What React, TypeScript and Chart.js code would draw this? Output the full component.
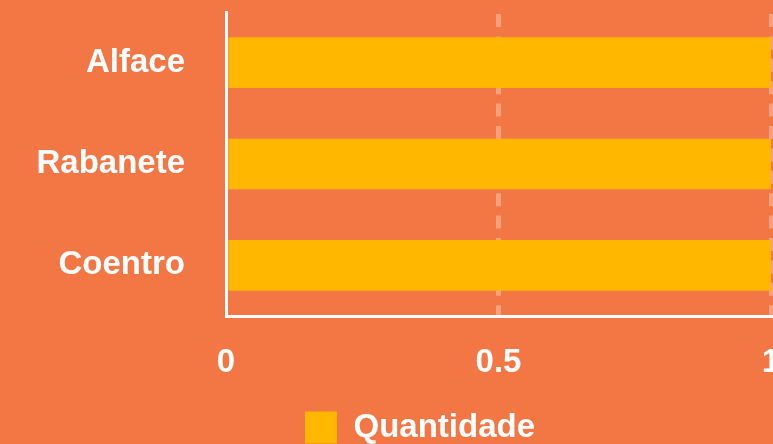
import React, { useEffect, useRef } from "react";
import { Chart, registerables } from "chart.js";

Chart.register(...registerables);

const categories = ["Alface", "Rabanete", "Coentro"];
const quantidade = [1, 1, 1];
const seriesLabel = "Quantidade";
const xTicks = [0, 0.5, 1];

const BG = "#F37745";
const BAR = "#FFB700";
const FONT = "'Liberation Sans', Arial, sans-serif";
const FS = 33;

export default function App() {
  const ref = useRef<HTMLCanvasElement | null>(null);

  useEffect(() => {
    if (!ref.current) return;
    const chart = new Chart(ref.current, {
      type: "bar",
      data: {
        labels: categories,
        datasets: [
          {
            label: seriesLabel,
            data: quantidade,
            backgroundColor: BAR,
            borderWidth: 0,
            barPercentage: 0.5,
            categoryPercentage: 1,
          },
        ],
      },
      options: {
        indexAxis: "y",
        animation: false,
        responsive: false,
        devicePixelRatio: 1,
        layout: { padding: { top: 12, left: 0, right: 0, bottom: 0 } },
        plugins: {
          tooltip: { enabled: false },
          legend: {
            position: "bottom",
            labels: {
              color: "#ffffff",
              font: { family: FONT, size: FS, weight: "bold" },
              boxWidth: 32,
              boxHeight: 32,
              padding: 10,
            },
          },
        },
        scales: {
          x: {
            min: 0,
            max: 1,
            afterBuildTicks: (scale: any) => {
              scale.ticks = xTicks.map((v) => ({ value: v }));
            },
            afterFit: (scale: any) => {
              scale.height = 85;
              scale.paddingLeft = 0;
              scale.paddingRight = 0;
            },
            ticks: {
              color: "#ffffff",
              font: { family: FONT, size: FS, weight: "bold" },
              padding: 27,
              callback: (v: any) => String(v),
            },
            grid: {
              drawTicks: false,
              color: (ctx: any) =>
                ctx.tick && ctx.tick.value === 0 ? "rgba(0,0,0,0)" : "rgba(255,255,255,0.3)",
              lineWidth: 5,
            },
            border: { display: true, color: "#ffffff", width: 3, dash: [13, 9.4], dashOffset: -2 },
          },
          y: {
            afterFit: (scale: any) => {
              scale.width = 226;
              scale.paddingTop = 0;
              scale.paddingBottom = 0;
            },
            ticks: {
              color: "#ffffff",
              font: { family: FONT, size: FS, weight: "bold" },
              padding: 0,
            },
            grid: { display: false, drawTicks: true, tickLength: 41 },
            border: { display: true, color: "#ffffff", width: 3 },
          },
          yRight: {
            type: "category",
            position: "right",
            labels: [""],
            ticks: { display: false },
            grid: { display: false, drawTicks: false },
            border: { display: false },
            afterFit: (scale: any) => {
              scale.width = 69;
              scale.paddingTop = 0;
              scale.paddingBottom = 0;
            },
          },
        },
      },
    });
    return () => chart.destroy();
  }, []);

  return (
    <div
      style={{
        position: "fixed",
        left: 0,
        top: 0,
        width: 773,
        height: 444,
        overflow: "hidden",
        background: BG,
      }}
    >
      <canvas
        ref={ref}
        width={840}
        height={454}
        style={{ position: "absolute", left: 0, top: 0, width: 840, height: 454 }}
      />
    </div>
  );
}
